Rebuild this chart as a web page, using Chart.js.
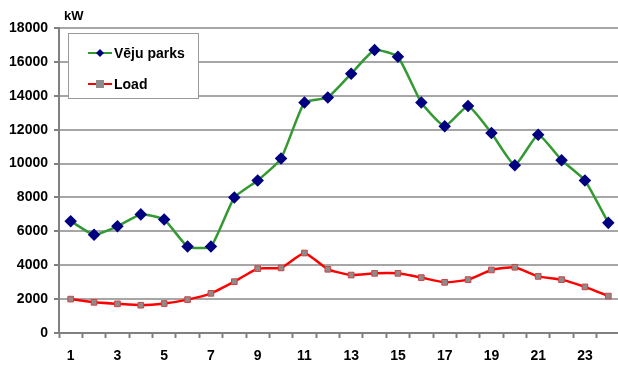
<!DOCTYPE html>
<html><head><meta charset="utf-8">
<script src="https://cdn.jsdelivr.net/npm/chart.js@4/dist/chart.umd.min.js"></script>
<style>
html,body{margin:0;padding:0;background:#fff;}
#wrap{position:relative;width:618px;height:367px;overflow:hidden;}
#legend{position:absolute;left:68px;top:33px;width:129px;height:64px;border:1px solid #9a9a9a;background:#fff;font:bold 14px "Liberation Sans",Arial,sans-serif;color:#000;}
.item{position:absolute;left:19px;height:16px;display:flex;align-items:center;}
.item canvas{margin-right:2px;}
#kw{position:absolute;left:64px;top:8px;font:bold 13px "Liberation Sans",Arial,sans-serif;}
</style></head>
<body><div id="wrap"><canvas id="c" width="627" height="367"></canvas><div id="kw">kW</div><div id="legend"></div></div>
<script>
const categories = ["1","2","3","4","5","6","7","8","9","10","11","12","13","14","15","16","17","18","19","20","21","22","23","24"];
const vejuParks = [6600,5800,6300,7000,6700,5100,5100,8000,9000,10300,13600,13900,15300,16700,16300,13600,12200,13400,11800,9900,11700,10200,9000,6500];
const load = [2000,1810,1720,1640,1740,1970,2340,3030,3800,3840,4720,3760,3420,3520,3520,3270,2990,3150,3720,3880,3340,3150,2720,2180];
const seriesNames = ["Vēju parks","Load"];
const yTicks = [0,2000,4000,6000,8000,10000,12000,14000,16000,18000];

const font = {family:'"Liberation Sans", Arial, sans-serif', weight:'bold', size:14};
const chart = new Chart(document.getElementById('c'), {
  type:'line',
  data:{labels:categories, datasets:[
    {label:seriesNames[0], data:vejuParks, borderColor:'#339933', borderWidth:2.5, pointStyle:'rectRot', pointRadius:4.5, pointBackgroundColor:'#000080', pointBorderColor:'#000080', tension:0.15},
    {label:seriesNames[1], data:load, borderColor:'#ff0000', borderWidth:2.5, pointStyle:'rect', pointRadius:4, pointBackgroundColor:'#8c8c8c', pointBorderColor:'#cc4444', pointBorderWidth:1, tension:0.15}
  ]},
  options:{
    responsive:false, animation:false,
    layout:{padding:{top:28,right:0,left:0,bottom:0}},
    plugins:{legend:{display:false}, tooltip:{enabled:false}},
    scales:{
      x:{type:'category', offset:true,
        afterFit:(s)=>{s.height=34;},
        grid:{offset:true, drawOnChartArea:false, color:'#808080', tickLength:5, tickWidth:2, tickColor:'#808080'},
        border:{color:'#808080', width:2},
        ticks:{autoSkip:false, maxRotation:0, color:'#000', font:font, padding:10,
          callback:function(v,i){return (i%2===0)?categories[i]:'';}}
      },
      y:{min:0,max:18000, afterBuildTicks:(s)=>{s.ticks=yTicks.map(v=>({value:v}));},
        afterFit:(s)=>{s.width=59;},
        grid:{color:'#a6a6a6', lineWidth:2, drawTicks:true, tickLength:5, tickColor:'#808080'},
        border:{color:'#808080', width:2},
        ticks:{color:'#000', font:font, padding:6, callback:(v)=>String(v)}
      }
    }
  }
});

// HTML legend built from datasets
const lg = document.getElementById('legend');
chart.data.datasets.forEach((ds,i)=>{
  const d = document.createElement('div'); d.className='item'; d.style.top=(i===0?11:42)+'px';
  const cv = document.createElement('canvas'); cv.width=24; cv.height=12;
  const x = cv.getContext('2d');
  x.strokeStyle=ds.borderColor; x.lineWidth=2; x.beginPath(); x.moveTo(0,6); x.lineTo(24,6); x.stroke();
  x.fillStyle=ds.pointBackgroundColor;
  if(ds.pointStyle==='rectRot'){x.beginPath();x.moveTo(12,2);x.lineTo(16,6);x.lineTo(12,10);x.lineTo(8,6);x.closePath();x.fill();}
  else {x.fillRect(8,2,8,8);}
  d.appendChild(cv);
  const t=document.createElement('span'); t.textContent=ds.label; d.appendChild(t);
  lg.appendChild(d);
});
</script></body></html>
